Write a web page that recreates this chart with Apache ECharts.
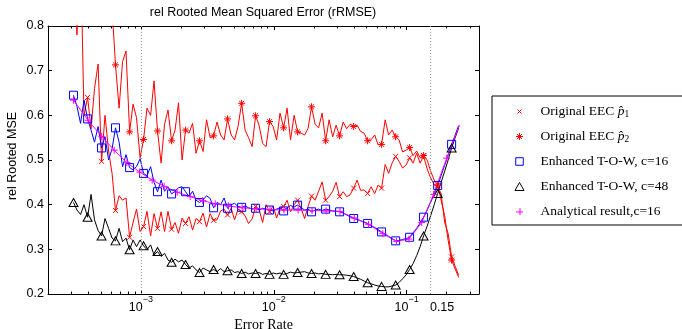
<!DOCTYPE html>
<html>
<head>
<meta charset="utf-8">
<title>rel Rooted Mean Squared Error (rRMSE)</title>
<script src="https://cdn.jsdelivr.net/npm/echarts@6/dist/echarts.min.js"></script>
<style>
    html, body { margin: 0; padding: 0; background: #fff; }
    #main { width: 682px; height: 329px; }
</style>
</head>
<body>
<div id="main"></div>
<script>
// log10 of the simulated error rates (shared by the four simulated curves)
var simRateLog10 = [
    -3.507, -3.481, -3.454, -3.428, -3.401, -3.375, -3.349, -3.322, -3.296, -3.270,
    -3.243, -3.217, -3.191, -3.164, -3.138, -3.112, -3.085, -3.059, -3.033, -3.006,
    -2.980, -2.954, -2.927, -2.901, -2.875, -2.848, -2.822, -2.796, -2.769, -2.743,
    -2.717, -2.690, -2.664, -2.638, -2.611, -2.585, -2.559, -2.532, -2.506, -2.479,
    -2.453, -2.427, -2.400, -2.374, -2.348, -2.321, -2.295, -2.269, -2.242, -2.216,
    -2.190, -2.163, -2.137, -2.111, -2.084, -2.058, -2.032, -2.005, -1.979, -1.953,
    -1.926, -1.900, -1.874, -1.847, -1.821, -1.795, -1.768, -1.742, -1.716, -1.689,
    -1.663, -1.636, -1.610, -1.584, -1.557, -1.531, -1.505, -1.478, -1.452, -1.426,
    -1.399, -1.373, -1.347, -1.320, -1.294, -1.268, -1.241, -1.215, -1.189, -1.162,
    -1.136, -1.110, -1.083, -1.057, -1.031, -1.004, -0.978, -0.952, -0.925, -0.899,
    -0.873, -0.846, -0.820, -0.793, -0.767, -0.741, -0.714, -0.688, -0.662, -0.635,
    -0.609
];

// Original EEC p1 (red, x markers)
var eecP1 = [
    0.95, 0.78, 0.97, 0.60, 0.64, 0.57, 0.66, 0.715, 0.497, 0.60,
    0.52, 0.47, 0.387, 0.42, 0.41, 0.415, 0.327, 0.36, 0.39, 0.34,
    0.351, 0.385, 0.33, 0.38, 0.347, 0.384, 0.34, 0.385, 0.345, 0.36,
    0.336, 0.37, 0.358, 0.373, 0.343, 0.369, 0.362, 0.381, 0.35, 0.38,
    0.365, 0.366, 0.386, 0.39, 0.377, 0.392, 0.366, 0.39, 0.384, 0.375,
    0.358, 0.368, 0.396, 0.39, 0.36, 0.40, 0.384, 0.397, 0.37, 0.392,
    0.396, 0.41, 0.384, 0.40, 0.41, 0.392, 0.369, 0.396, 0.419, 0.41,
    0.43, 0.451, 0.41, 0.418, 0.43, 0.45, 0.418, 0.429, 0.418, 0.422,
    0.437, 0.455, 0.432, 0.433, 0.425, 0.44, 0.425, 0.444, 0.437, 0.49,
    0.47, 0.493, 0.508, 0.497, 0.482, 0.489, 0.505, 0.493, 0.515, 0.493,
    0.509, 0.48, 0.46, 0.445, 0.44, 0.425, 0.36, 0.335, 0.283, 0.262,
    0.242
];

// Original EEC p2 (red, * markers)
var eecP2 = [
    null, null, null, null, null, null, null, null, null, null,
    null, 0.84, 0.713, 0.616, 0.72, 0.744, 0.563, 0.625, 0.595, 0.505,
    0.546, 0.616, 0.60, 0.677, 0.565, 0.493, 0.58, 0.612, 0.543, 0.567,
    0.628, 0.50, 0.567, 0.56, 0.582, 0.515, 0.543, 0.519, 0.59, 0.55,
    0.554, 0.585, 0.556, 0.545, 0.592, 0.556, 0.545, 0.575, 0.627, 0.567,
    0.55, 0.53, 0.599, 0.578, 0.537, 0.53, 0.586, 0.575, 0.545, 0.605,
    0.572, 0.616, 0.545, 0.60, 0.563, 0.56, 0.556, 0.571, 0.619, 0.58,
    0.572, 0.605, 0.543, 0.59, 0.552, 0.578, 0.554, 0.585, 0.57, 0.58,
    0.575, 0.578, 0.564, 0.56, 0.543, 0.545, 0.556, 0.534, 0.535, 0.59,
    0.556, 0.567, 0.552, 0.545, 0.518, 0.522, 0.528, 0.51, 0.52, 0.505,
    0.51, 0.50, 0.475, 0.455, 0.444, 0.41, 0.375, 0.32, 0.276, 0.256,
    0.237
];

// Enhanced T-O-W, c=16 (blue squares)
var towC16 = [
    0.645, 0.62, 0.582, 0.634, 0.592, 0.567, 0.54, 0.575, 0.527, 0.552,
    0.50, 0.525, 0.572, 0.54, 0.485, 0.512, 0.483, 0.478, 0.485, 0.503,
    0.47, 0.465, 0.485, 0.45, 0.429, 0.455, 0.43, 0.44, 0.424, 0.43,
    0.438, 0.44, 0.429, 0.418, 0.43, 0.41, 0.405, 0.411, 0.42, 0.414,
    0.393, 0.405, 0.40, 0.415, 0.392, 0.40, 0.403, 0.396, 0.394, 0.397,
    0.393, 0.39, 0.392, 0.388, 0.392, 0.39, 0.388, 0.386, 0.39, 0.393,
    0.386, 0.393, 0.398, 0.395, 0.399, 0.393, 0.388, 0.39, 0.384, 0.388,
    0.39, 0.387, 0.390, 0.388, 0.386, 0.385, 0.384, 0.381, 0.377, 0.373,
    0.369, 0.367, 0.364, 0.361, 0.358, 0.353, 0.349, 0.344, 0.339, 0.334,
    0.329, 0.324, 0.319, 0.320, 0.322, 0.324, 0.327, 0.337, 0.347, 0.359,
    0.372, 0.388, 0.405, 0.424, 0.443, 0.465, 0.488, 0.511, 0.535, 0.556,
    0.577
];

// Enhanced T-O-W, c=48 (black triangles)
var towC48 = [
    0.405, 0.388, 0.378, 0.40, 0.372, 0.423, 0.366, 0.342, 0.33, 0.369,
    0.347, 0.325, 0.319, 0.347, 0.317, 0.325, 0.299, 0.321, 0.306, 0.321,
    0.308, 0.299, 0.31, 0.287, 0.295, 0.284, 0.291, 0.276, 0.271, 0.278,
    0.272, 0.276, 0.266, 0.258, 0.263, 0.254, 0.248, 0.258, 0.254, 0.25,
    0.255, 0.25, 0.257, 0.25, 0.252, 0.254, 0.248, 0.25, 0.246, 0.249,
    0.245, 0.247, 0.246, 0.248, 0.244, 0.246, 0.244, 0.247, 0.245, 0.247,
    0.244, 0.246, 0.249, 0.247, 0.248, 0.249, 0.250, 0.247, 0.246, 0.247,
    0.245, 0.246, 0.244, 0.244, 0.243, 0.244, 0.243, 0.243, 0.242, 0.241,
    0.239, 0.236, 0.233, 0.229, 0.225, 0.223, 0.220, 0.218, 0.217, 0.216,
    0.216, 0.218, 0.22, 0.226, 0.234, 0.243, 0.255, 0.268, 0.286, 0.306,
    0.33, 0.352, 0.375, 0.40, 0.425, 0.45, 0.475, 0.50, 0.527, 0.55,
    0.572
];

// Analytical result, c=16 (magenta +)
var analyticRateLog10 = [
    -3.507, -3.398, -3.295, -3.201, -3.105, -3.009, -2.915, -2.825, -2.727, -2.629,
    -2.535, -2.441, -2.341, -2.238, -2.133, -2.028, -1.923, -1.817, -1.712, -1.607,
    -1.502, -1.394, -1.287, -1.180, -1.077, -0.983, -0.887, -0.798, -0.699, -0.603
];
var analyticC16 = [
    0.634, 0.589, 0.553, 0.522, 0.494, 0.473, 0.455, 0.441, 0.428, 0.418,
    0.409, 0.402, 0.397, 0.393, 0.391, 0.389, 0.388, 0.388, 0.387, 0.386,
    0.385, 0.370, 0.356, 0.335, 0.318, 0.323, 0.360, 0.423, 0.504, 0.578
];

// axis ticks / labels
var xRange = [2e-4, 0.35];
var majorTickRates = [1e-3, 1e-2, 1e-1];
var minorTickRates = [3e-4, 4e-4, 5e-4, 6e-4, 7e-4, 8e-4, 9e-4,
                      2e-3, 3e-3, 4e-3, 5e-3, 6e-3, 7e-3, 8e-3, 9e-3,
                      2e-2, 3e-2, 4e-2, 5e-2, 6e-2, 7e-2, 8e-2, 9e-2,
                      2e-1, 3e-1];
var xLabelRates = [1e-3, 1e-2, 1e-1, 0.15];
var xLabelTexts = [['10', '\u22123'], ['10', '\u22122'], ['10', '\u22121'], ['0.15', '']];
var guideRates = [1e-3, 0.15];

var legendNames = ['Original EEC p1', 'Original EEC p2', 'Enhanced T-O-W, c=16',
                   'Enhanced T-O-W, c=48', 'Analytical result,c=16'];

var SANS = "'Liberation Sans', Arial, Helvetica, sans-serif";
var SERIF = "'Liberation Serif', 'Times New Roman', serif";

var SYM_X = 'path://M0,0L10,10M10,0L0,10';
var SYM_STAR = 'path://M5,0L5,10M0,5L10,5M1.5,1.5L8.5,8.5M8.5,1.5L1.5,8.5';
var SYM_PLUS = 'path://M5,0L5,10M0,5L10,5';

// legend icons: the leading moves fix a 20x20 frame so each glyph keeps its own size
var ICON_X = 'path://M0,0M20,20M7.2,7.2L12.8,12.8M12.8,7.2L7.2,12.8';
var ICON_STAR = 'path://M0,0M20,20M10,5L10,15M5,10L15,10M6.5,6.5L13.5,13.5M13.5,6.5L6.5,13.5';
var ICON_SQUARE = 'path://M0,0M20,20M4.6,4.6H15.4V15.4H4.6Z';
var ICON_TRI = 'path://M0,0M20,20M10,4.3L16.5,15.7H3.5Z';
var ICON_PLUS = 'path://M0,0M20,20M10.7,5L10.7,15M5,10.7L15,10.7';

function lg(v) { return Math.log10(v); }

function buildData(xs, ys, every, lastMark) {
    var out = [];
    for (var i = 0; i < xs.length; i++) {
        if (ys[i] === null) continue;
        var item = { value: [xs[i], ys[i]] };
        if (i % every !== 0 || i > lastMark) item.symbol = 'none';
        out.push(item);
    }
    return out;
}

function lineSeries(name, color, xs, ys, every, lastMark, symbol, size) {
    return {
        name: name,
        type: 'line',
        data: buildData(xs, ys, every, lastMark),
        symbol: symbol,
        symbolSize: size,
        itemStyle: { color: 'none', borderColor: color, borderWidth: 1 },
        lineStyle: { color: color, width: 1 },
        emphasis: { disabled: true },
        silent: true,
        clip: true
    };
}

var xMajor = majorTickRates.map(lg);
var xMinor = minorTickRates.map(lg);
var xLabelPos = xLabelRates.map(lg);

function tickAxis(position, values, length) {
    return {
        type: 'value', min: lg(xRange[0]), max: lg(xRange[1]), position: position,
        axisLine: { show: false },
        axisTick: { show: true, inside: true, length: length, customValues: values,
                    lineStyle: { color: '#000', width: 1 } },
        axisLabel: { show: false },
        splitLine: { show: false }
    };
}

var series = [
    lineSeries(legendNames[0], '#ff0000', simRateLog10, eecP1, 4, 108, SYM_X, 5),
    lineSeries(legendNames[1], '#ff0000', simRateLog10, eecP2, 4, 108, SYM_STAR, 7),
    lineSeries(legendNames[2], '#0000ff', simRateLog10, towC16, 4, 108, 'rect', 8),
    lineSeries(legendNames[3], '#000000', simRateLog10, towC48, 4, 108, 'triangle', [9, 8]),
    lineSeries(legendNames[4], '#ff00ff', analyticRateLog10, analyticC16, 1, 28, SYM_PLUS, 7)
];

series[0].markLine = {
    silent: true,
    symbol: ['none', 'none'],
    label: { show: false },
    lineStyle: { color: '#999', type: [1, 2], width: 1 },
    data: guideRates.map(function (r) { return { xAxis: lg(r) }; })
};

var legendIcons = [ICON_X, ICON_STAR, ICON_SQUARE, ICON_TRI, ICON_PLUS];
var legendColors = ['#ff0000', '#ff0000', '#0000ff', '#000000', '#ff00ff'];

var option = {
    backgroundColor: '#fff',
    animation: false,
    title: {
        text: 'rel Rooted Mean Squared Error (rRMSE)',
        left: 263,
        top: 6,
        padding: 0,
        textAlign: 'center',
        textStyle: { fontFamily: SANS, fontSize: 12.5, fontWeight: 'normal', color: '#000' }
    },
    grid: { left: 48, top: 26, right: 203, bottom: 35, containLabel: false, outerBoundsMode: 'none' },
    legend: {
        orient: 'vertical',
        left: 492,
        top: 96,
        padding: [6, 30, 4, 18],
        itemWidth: 14,
        itemHeight: 14,
        itemGap: 6,
        selectedMode: false,
        backgroundColor: '#fff',
        borderColor: '#000',
        borderWidth: 1,
        borderRadius: 0,
        data: legendNames.map(function (n, i) {
            return {
                name: n,
                icon: legendIcons[i],
                itemStyle: { color: 'none', borderColor: legendColors[i], borderWidth: 1 }
            };
        }),
        formatter: function (name) {
            if (name === legendNames[0]) return '{g| }Original EEC {i|p\u0302}{s|1}';
            if (name === legendNames[1]) return '{g| }Original EEC {i|p\u0302}{s|2}';
            return '{g| }' + name;
        },
        textStyle: {
            fontFamily: SERIF, fontSize: 13.5, color: '#000', lineHeight: 16,
            rich: {
                g: { width: 9 },
                i: { fontFamily: SERIF, fontSize: 13.5, fontStyle: 'italic' },
                s: { fontFamily: SERIF, fontSize: 9.5, padding: [6, 0, 0, 0] }
            }
        }
    },
    xAxis: [
        {
            type: 'value', min: lg(xRange[0]), max: lg(xRange[1]), position: 'bottom',
            name: 'Error Rate', nameLocation: 'middle', nameGap: 24, nameMoveOverlap: false,
            nameTextStyle: { fontFamily: SERIF, fontSize: 14, color: '#000' },
            axisLine: { show: true, lineStyle: { color: '#000', width: 1 } },
            axisTick: { show: true, inside: true, length: 4, customValues: xMajor,
                        lineStyle: { color: '#000', width: 1 } },
            axisLabel: {
                customValues: xLabelPos,
                margin: 1,
                color: '#000',
                formatter: function (v) {
                    var k = 0;
                    for (var i = 0; i < xLabelPos.length; i++) {
                        if (Math.abs(xLabelPos[i] - v) < 1e-6) k = i;
                    }
                    var t = xLabelTexts[k];
                    return t[1] ? '{b|' + t[0] + '}{e|' + t[1] + '}' : '{r|' + t[0] + '}';
                },
                rich: {
                    b: { fontFamily: SANS, fontSize: 12.5, color: '#000', padding: [6, 0, 0, 0] },
                    e: { fontFamily: SANS, fontSize: 9, color: '#000', padding: [0, 0, 10, 0] },
                    r: { fontFamily: SANS, fontSize: 12.5, color: '#000', padding: [6, 0, 0, 24] }
                }
            },
            splitLine: { show: false }
        },
        tickAxis('bottom', xMinor, 2.5),
        {
            type: 'value', min: lg(xRange[0]), max: lg(xRange[1]), position: 'top',
            axisLine: { show: true, lineStyle: { color: '#000', width: 1 } },
            axisTick: { show: true, inside: true, length: 4, customValues: xMajor,
                        lineStyle: { color: '#000', width: 1 } },
            axisLabel: { show: false },
            splitLine: { show: false }
        },
        tickAxis('top', xMinor, 2.5)
    ],
    yAxis: [
        {
            type: 'value', min: 0.2, max: 0.8, interval: 0.1, position: 'left',
            name: 'rel Rooted MSE', nameLocation: 'middle', nameGap: 29, nameMoveOverlap: false,
            nameTextStyle: { fontFamily: SANS, fontSize: 12.5, color: '#000', padding: [0, 0, 0, 8] },
            axisLine: { show: true, lineStyle: { color: '#000', width: 1 } },
            axisTick: { show: true, inside: true, length: 4, lineStyle: { color: '#000' } },
            axisLabel: { fontFamily: SANS, fontSize: 12.5, color: '#000', margin: 4,
                         formatter: function (v) { return v.toFixed(1); } },
            splitLine: { show: false }
        },
        {
            type: 'value', min: 0.2, max: 0.8, interval: 0.1, position: 'right',
            axisLine: { show: true, lineStyle: { color: '#000', width: 1 } },
            axisTick: { show: true, inside: true, length: 4, lineStyle: { color: '#000' } },
            axisLabel: { show: false },
            splitLine: { show: false }
        }
    ],
    series: series
};

var myChart = echarts.init(document.getElementById('main'));
myChart.setOption(option);
</script>
</body>
</html>
